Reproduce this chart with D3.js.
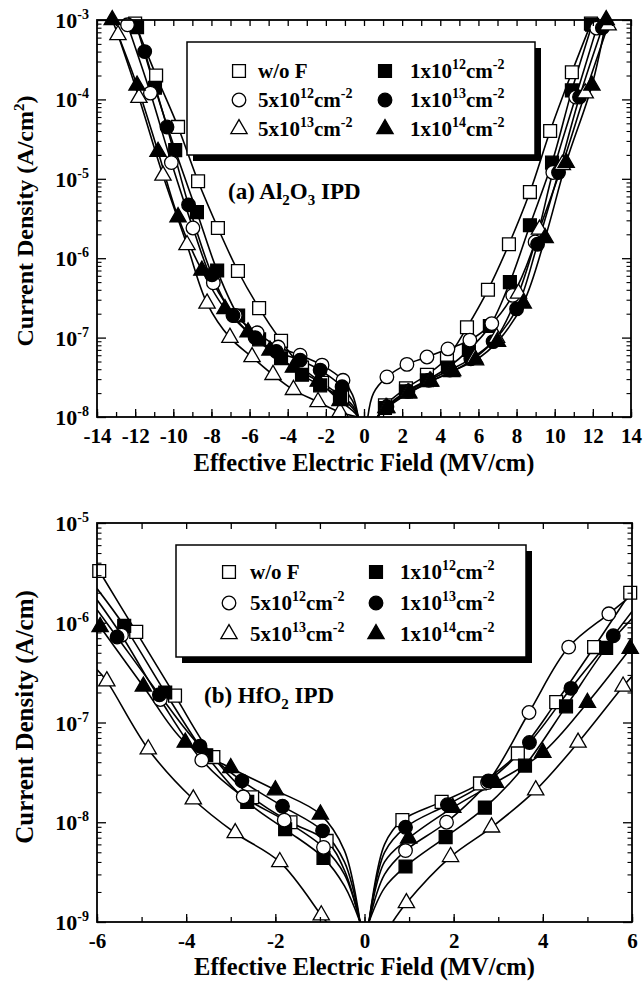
<!DOCTYPE html>
<html>
<head>
<meta charset="utf-8">
<script src="https://cdn.jsdelivr.net/npm/d3@7"></script>
<style>
  body { margin: 0; background: #fff; }
  svg text { font-family: "Liberation Serif", "Times New Roman", serif; font-weight: bold; fill: #000; }
</style>
</head>
<body>
<svg id="chart" width="643" height="985"></svg>
<script>
// ---------- data: [field (MV/cm), current density] ----------
const seriesLabels = ["w/o F", "5x10^12", "5x10^13", "1x10^12", "1x10^13", "1x10^14"];

// (a) Al2O3 IPD
const alWoF = [[-12.0,9.0e-4],[-10.9,2.0e-4],[-9.75,4.5e-5],[-8.7,9.3e-6],[-7.66,2.4e-6],[-6.61,6.9e-7],[-5.5,2.35e-7],[-4.35,9.1e-8],[-3.25,4.2e-8],[-2.2,2.7e-8],[-1.15,1.8e-8],
  [1.1,1.4e-8],[2.2,2.3e-8],[3.3,3.4e-8],[4.35,5.5e-8],[5.4,1.35e-7],[6.5,4.0e-7],[7.6,1.5e-6],[8.7,6.8e-6],[9.76,4.0e-5],[10.9,2.2e-4],[11.9,9.0e-4]];
const al5e12 = [[-12.4,8.7e-4],[-11.2,1.2e-4],[-10.1,1.6e-5],[-8.97,2.4e-6],[-7.9,4.9e-7],[-6.75,1.9e-7],[-5.6,1.15e-7],[-4.5,7.6e-8],[-3.35,6.0e-8],[-2.2,4.5e-8],[-1.1,2.9e-8],
  [1.2,3.2e-8],[2.25,4.6e-8],[3.3,5.7e-8],[4.4,7.2e-8],[5.55,9.3e-8],[6.7,1.5e-7],[7.8,3.4e-7],[8.97,1.6e-6],[9.9,1.2e-5],[11.1,1.07e-4],[12.2,7.9e-4]];
const al5e13 = [[-12.9,6.5e-4],[-11.8,1.05e-4],[-10.54,1.1e-5],[-9.28,1.47e-6],[-8.23,2.7e-7],[-7.03,1.0e-7],[-5.87,5.7e-8],[-4.77,3.4e-8],[-3.7,2.2e-8],[-2.41,1.55e-8],[-1.26,1.15e-8],
  [1.15,1.3e-8],[2.3,2.0e-8],[3.45,2.8e-8],[4.6,3.7e-8],[5.8,5.5e-8],[6.95,1.0e-7],[8.1,3.6e-7],[9.2,2.3e-6],[10.4,1.5e-5],[11.6,1.2e-4],[12.8,8.6e-4]];
const al1e12 = [[-11.9,8.1e-4],[-10.96,1.4e-4],[-9.9,2.3e-5],[-8.76,3.8e-6],[-7.7,7.0e-7],[-6.6,1.9e-7],[-5.5,9.5e-8],[-4.35,5.5e-8],[-3.25,3.4e-8],[-2.3,2.5e-8],[-1.26,1.8e-8],
  [1.1,1.3e-8],[2.2,2.1e-8],[3.3,2.9e-8],[4.4,4.2e-8],[5.5,7.0e-8],[6.6,1.4e-7],[7.65,5.0e-7],[8.7,2.6e-6],[9.86,1.6e-5],[10.9,1.3e-4],[11.96,8.7e-4]];
const al1e13 = [[-11.5,4.0e-4],[-10.33,4.5e-5],[-9.2,4.7e-6],[-7.97,6.2e-7],[-6.87,1.9e-7],[-5.71,1.0e-7],[-4.6,6.7e-8],[-3.35,5.2e-8],[-2.3,3.9e-8],[-1.15,2.4e-8],
  [1.2,1.35e-8],[2.3,2.1e-8],[3.4,2.9e-8],[4.5,3.9e-8],[5.6,5.4e-8],[6.77,8.9e-8],[8.0,2.3e-7],[9.1,1.5e-6],[10.2,1.2e-5],[11.3,1.07e-4],[12.5,8.0e-4]];
const al1e14 = [[-13.2,1.0e-3],[-11.9,1.5e-4],[-10.8,2.2e-5],[-9.75,3.3e-6],[-8.5,7.0e-7],[-7.29,2.3e-7],[-6.08,1.17e-7],[-4.93,6.9e-8],[-3.7,4.2e-8],[-2.4,2.8e-8],[-1.26,1.6e-8],
  [1.2,1.3e-8],[2.35,2.0e-8],[3.5,2.8e-8],[4.65,3.8e-8],[5.85,5.2e-8],[7.0,8.9e-8],[8.35,2.7e-7],[9.5,1.8e-6],[10.6,1.6e-5],[11.95,1.5e-4],[12.7,1.0e-3]];

// extra points the fitted curves pass through near zero field (lines only)
const alWoFGuide = [[-0.6,1.4e-8],[-0.3,1.0e-8],[0.7,1.0e-8]];
const al5e12Guide = [[-0.6,1.9e-8],[-0.3,1.0e-8],[0.2,1.0e-8],[0.5,2.0e-8]];
const al5e13Guide = [[-0.3,1.0e-8],[0.7,1.0e-8]];
const al1e12Guide = [[-0.6,1.3e-8],[-0.3,1.0e-8],[0.7,1.0e-8]];
const al1e13Guide = [[-0.6,1.6e-8],[-0.3,1.0e-8],[0.7,1.0e-8]];
const al1e14Guide = [[-0.6,1.2e-8],[-0.3,1.0e-8],[0.7,1.0e-8]];

// (b) HfO2 IPD
const hfWoF = [[-5.95,3.3e-6],[-5.12,8.1e-7],[-4.25,1.86e-7],[-3.39,4.5e-8],[-2.52,1.78e-8],[-1.66,1.0e-8],[-0.85,6.5e-9],
  [0.85,1.05e-8],[1.73,1.6e-8],[2.59,2.45e-8],[3.44,4.9e-8],[4.3,1.6e-7],[5.15,5.7e-7],[5.96,2.0e-6]];
const hf5e12 = [[-5.45,7.5e-7],[-4.58,1.7e-7],[-3.65,4.2e-8],[-2.72,1.8e-8],[-1.8,1.05e-8],[-0.92,5.6e-9],
  [0.92,5.2e-9],[1.84,1.0e-8],[2.76,2.5e-8],[3.69,1.26e-7],[4.58,5.7e-7],[5.48,1.23e-6]];
const hf5e13 = [[-5.78,2.6e-7],[-4.85,5.4e-8],[-3.84,1.7e-8],[-2.9,7.8e-9],[-1.9,4.0e-9],[-0.97,1.17e-9],
  [0.94,1.55e-9],[1.93,4.5e-9],[2.85,8.9e-9],[3.84,2.1e-8],[4.79,6.3e-8],[5.8,2.3e-7]];
const hf1e12 = [[-5.39,9.3e-7],[-4.47,2.0e-7],[-3.55,4.7e-8],[-2.63,1.6e-8],[-1.78,8.5e-9],[-0.92,4.4e-9],
  [0.92,3.6e-9],[1.82,7.1e-9],[2.7,1.4e-8],[3.6,3.7e-8],[4.52,1.45e-7],[5.42,5.6e-7]];
const hf1e13 = [[-5.55,7.2e-7],[-4.6,1.9e-7],[-3.69,5.8e-8],[-2.75,2.6e-8],[-1.84,1.45e-8],[-0.94,8.2e-9],
  [0.92,8.9e-9],[1.86,1.5e-8],[2.78,2.6e-8],[3.7,6.3e-8],[4.63,2.2e-7],[5.58,7.4e-7]];
const hf1e14 = [[-5.93,9.1e-7],[-4.96,2.3e-7],[-4.02,6.3e-8],[-3.0,3.5e-8],[-2.0,2.1e-8],[-0.99,1.2e-8],
  [0.99,6.9e-9],[1.98,1.4e-8],[2.94,2.5e-8],[4.0,5.0e-8],[5.0,1.58e-7],[5.96,5.5e-7]];

const hfWoFGuide = [[-0.45,3.3e-9],[-0.1,1.0e-9],[0.1,1.0e-9],[0.45,6.0e-9]];
const hf5e12Guide = [[-6,1.7e-6],[-0.45,3.0e-9],[-0.1,1.0e-9],[0.1,1.0e-9],[0.45,3.0e-9],[6,1.9e-6]];
const hf5e13Guide = [[-6,3.4e-7],[-0.85,1.0e-9],[0.63,1.0e-9],[6,2.9e-7]];
const hf1e12Guide = [[-6,2.2e-6],[-0.45,2.3e-9],[-0.1,1.0e-9],[0.1,1.0e-9],[0.45,2.2e-9],[6,1.1e-6]];
const hf1e13Guide = [[-6,1.35e-6],[-0.45,4.0e-9],[-0.1,1.0e-9],[0.1,1.0e-9],[0.45,5.0e-9],[6,1.3e-6]];
const hf1e14Guide = [[-0.45,5.2e-9],[-0.1,1.0e-9],[0.1,1.0e-9],[0.45,4.0e-9]];

// axis tick values
const alXLabels = [-14,-12,-10,-8,-6,-4,-2,0,2,4,6,8,10,12,14];
const alDecades = [-8,-7,-6,-5,-4,-3];
const hfXLabels = [-6,-4,-2,0,2,4,6];
const hfDecades = [-9,-8,-7,-6,-5];

// ---------- drawing ----------
const svg = d3.select("#chart");
const SUP = -9, SUB = 6;

function rich(textSel, parts, size, smallSize) {
  let shift = 0;
  parts.forEach(([t, kind]) => {
    const target = kind === "sup" ? SUP : kind === "sub" ? SUB : 0;
    textSel.append("tspan")
      .attr("dy", target - shift)
      .attr("font-size", kind === "n" ? size : smallSize)
      .text(t);
    shift = target;
  });
  return textSel;
}

const legendParts = [
  [["w/o F","n"]],
  [["5x10","n"],["12","sup"],["cm","n"],["-2","sup"]],
  [["5x10","n"],["13","sup"],["cm","n"],["-2","sup"]],
  [["1x10","n"],["12","sup"],["cm","n"],["-2","sup"]],
  [["1x10","n"],["13","sup"],["cm","n"],["-2","sup"]],
  [["1x10","n"],["14","sup"],["cm","n"],["-2","sup"]]
];
const symbols = [
  {type: d3.symbolSquare, size: 165, filled: false},
  {type: d3.symbolCircle, size: 145, filled: false},
  {type: d3.symbolTriangle, size: 115, filled: false},
  {type: d3.symbolSquare, size: 165, filled: true},
  {type: d3.symbolCircle, size: 145, filled: true},
  {type: d3.symbolTriangle, size: 115, filled: true}
];

function drawPanel(cfg) {
  const x = d3.scaleLinear().domain(cfg.xDomain).range([cfg.left, cfg.right]);
  const y = d3.scaleLog().domain(cfg.yDomain).range([cfg.bottom, cfg.top]);
  const g = svg.append("g");
  const clipId = "clip-" + cfg.id;
  g.append("clipPath").attr("id", clipId).append("rect")
    .attr("x", cfg.left).attr("y", cfg.top)
    .attr("width", cfg.right - cfg.left).attr("height", cfg.bottom - cfg.top);

  // fitted curves
  const line = d3.line().x(d => x(d[0])).y(d => y(d[1])).curve(d3.curveCatmullRom.alpha(0.5));
  const lineLayer = g.append("g").attr("clip-path", `url(#${clipId})`);
  cfg.series.forEach(s => {
    const all = s.points.concat(s.guide).sort((a, b) => a[0] - b[0]);
    const neg = all.filter(d => d[0] < 0), pos = all.filter(d => d[0] > 0);
    [neg, pos].forEach(branch => {
      lineLayer.append("path").attr("d", line(branch))
        .attr("fill", "none").attr("stroke", "#000").attr("stroke-width", 1.6);
    });
  });

  // markers
  const markOrder = [0, 3, 1, 4, 2, 5];
  markOrder.forEach(i => {
    const sym = symbols[i];
    g.append("g").selectAll("path").data(cfg.series[i].points).join("path")
      .attr("transform", d => `translate(${x(d[0])},${y(d[1])})`)
      .attr("d", d3.symbol().type(sym.type).size(sym.size))
      .attr("fill", sym.filled ? "#000" : "#fff")
      .attr("stroke", "#000").attr("stroke-width", 1.3);
  });

  // frame
  g.append("rect").attr("x", cfg.left).attr("y", cfg.top)
    .attr("width", cfg.right - cfg.left).attr("height", cfg.bottom - cfg.top)
    .attr("fill", "none").attr("stroke", "#000").attr("stroke-width", 1.8);

  const clean = sel => { sel.select(".domain").remove(); sel.attr("font-family", null).attr("font-size", null); };
  const xMinor = d3.range(cfg.xDomain[0], cfg.xDomain[1] + 0.01, 1);

  // bottom axis: labelled ticks + minor ticks
  g.append("g").attr("transform", `translate(0,${cfg.bottom})`)
    .call(d3.axisBottom(x).tickValues(xMinor).tickSize(-5).tickFormat(""))
    .call(clean).selectAll("line").attr("stroke-width", 1.3);
  const xb = g.append("g").attr("transform", `translate(0,${cfg.bottom})`)
    .call(d3.axisBottom(x).tickValues(cfg.xLabels).tickSize(-8).tickPadding(11).tickFormat(d => String(d)))
    .call(clean);
  xb.selectAll("line").attr("stroke-width", 1.3);
  xb.selectAll("text").attr("font-size", 21).attr("fill", "#000");

  // top axis
  g.append("g").attr("transform", `translate(0,${cfg.top})`)
    .call(d3.axisTop(x).tickValues(xMinor).tickSize(-6).tickFormat(""))
    .call(clean).selectAll("line").attr("stroke-width", 1.3);

  // log axes, left and right
  const majors = cfg.decades.map(e => Math.pow(10, e));
  const minors = [];
  cfg.decades.slice(0, -1).forEach(e => { for (let m = 2; m <= 9; m++) minors.push(m * Math.pow(10, e)); });
  [[d3.axisLeft, cfg.left], [d3.axisRight, cfg.right]].forEach(([axisFn, xPos]) => {
    g.append("g").attr("transform", `translate(${xPos},0)`)
      .call(axisFn(y).tickValues(majors).tickSize(-9).tickFormat(""))
      .call(clean).selectAll("line").attr("stroke-width", 1.3);
    g.append("g").attr("transform", `translate(${xPos},0)`)
      .call(axisFn(y).tickValues(minors).tickSize(-4.5).tickFormat(""))
      .call(clean).selectAll("line").attr("stroke-width", 1.1);
  });

  // decade labels
  cfg.decades.forEach(e => {
    const t = g.append("text").attr("x", cfg.left - 8).attr("y", y(Math.pow(10, e)) + 8)
      .attr("text-anchor", "end");
    rich(t, [["10","n"],[String(e),"sup"]], 22, 14);
  });

  // axis titles
  g.append("text").attr("x", (cfg.left + cfg.right) / 2).attr("y", cfg.xTitleY)
    .attr("text-anchor", "middle").attr("font-size", 24.5)
    .text("Effective Electric Field (MV/cm)");
  const yt = g.append("text")
    .attr("transform", `translate(${cfg.yTitleX},${cfg.yTitleMid}) rotate(-90)`)
    .attr("text-anchor", "middle");
  rich(yt, cfg.yTitle, cfg.yTitleSize, 15);

  // panel label
  rich(g.append("text").attr("x", cfg.tagX).attr("y", cfg.tagY), cfg.tag, 23, 15);

  // legend with drop shadow
  const L = cfg.legend;
  const lg = g.append("g");
  lg.append("rect").attr("x", L.x + 6).attr("y", L.y + 6).attr("width", L.w).attr("height", L.h).attr("fill", "#000");
  lg.append("rect").attr("x", L.x).attr("y", L.y).attr("width", L.w).attr("height", L.h)
    .attr("fill", "#fff").attr("stroke", "#000").attr("stroke-width", 1.5);
  seriesLabels.forEach((name, i) => {
    const col = i < 3 ? 0 : 1, row = i % 3;
    const sym = symbols[i];
    const cy = L.rows[row];
    lg.append("path").attr("transform", `translate(${L.markX[col]},${cy})`)
      .attr("d", d3.symbol().type(sym.type).size(sym.size))
      .attr("fill", sym.filled ? "#000" : "#fff").attr("stroke", "#000").attr("stroke-width", 1.3);
    rich(lg.append("text").attr("x", L.textX[col]).attr("y", cy + 7), legendParts[i], 21, 14);
  });
}

drawPanel({
  id: "al", left: 97, right: 631, top: 20, bottom: 417,
  xDomain: [-14, 14], yDomain: [1e-8, 1e-3], xLabels: alXLabels, decades: alDecades,
  series: [
    {points: alWoF, guide: alWoFGuide}, {points: al5e12, guide: al5e12Guide}, {points: al5e13, guide: al5e13Guide},
    {points: al1e12, guide: al1e12Guide}, {points: al1e13, guide: al1e13Guide}, {points: al1e14, guide: al1e14Guide}
  ],
  xTitleY: 471, yTitleX: 33, yTitleMid: 221, yTitleSize: 24,
  yTitle: [["Current Density (A/cm","n"],["2","sup"],[")","n"]],
  tag: [["(a) Al","n"],["2","sub"],["O","n"],["3","sub"],[" IPD","n"]], tagX: 228, tagY: 199,
  legend: {x: 187, y: 42, w: 348, h: 113, rows: [71, 100, 129], markX: [239, 385], textX: [258, 410]}
});

drawPanel({
  id: "hf", left: 97, right: 632, top: 523, bottom: 922,
  xDomain: [-6, 6], yDomain: [1e-9, 1e-5], xLabels: hfXLabels, decades: hfDecades,
  series: [
    {points: hfWoF, guide: hfWoFGuide}, {points: hf5e12, guide: hf5e12Guide}, {points: hf5e13, guide: hf5e13Guide},
    {points: hf1e12, guide: hf1e12Guide}, {points: hf1e13, guide: hf1e13Guide}, {points: hf1e14, guide: hf1e14Guide}
  ],
  xTitleY: 975, yTitleX: 33, yTitleMid: 717, yTitleSize: 25,
  yTitle: [["Current Density (A/cm)","n"]],
  tag: [["(b) HfO","n"],["2","sub"],[" IPD","n"]], tagX: 204, tagY: 703,
  legend: {x: 176, y: 545, w: 350, h: 112, rows: [572, 603, 634], markX: [229, 376], textX: [250, 400]}
});
</script>
</body>
</html>
